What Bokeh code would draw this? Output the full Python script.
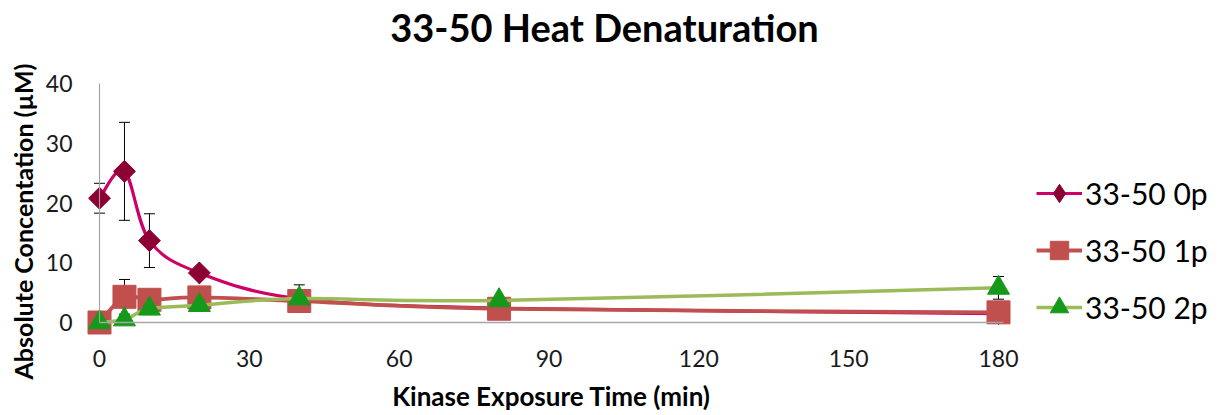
import numpy as np
from bokeh.plotting import figure
from bokeh.models import (ColumnDataSource, Range1d, FixedTicker, Whisker,
                          TeeHead, Legend, LegendItem, Label)
from bokeh.embed import file_html
from bokeh.resources import INLINE

# Kinase exposure time (min)
time_min = [0, 5, 10, 20, 40, 80, 180]

# Absolute concentration (µM) of each phospho-form
conc_0p = [20.8, 25.3, 13.7, 8.3, 4.0, 2.4, 1.5]
conc_1p = [0.0, 4.3, 3.8, 4.2, 3.6, 2.3, 1.7]
conc_2p = [0.0, 0.5, 2.3, 2.9, 4.0, 3.7, 5.8]

# Standard deviations (0 = no bar drawn)
err_0p = [2.5, 8.2, 4.5, 0, 0, 0, 0]
err_1p = [0, 2.9, 0, 0, 0, 0, 1.8]
err_2p = [0, 0, 0, 0, 2.3, 0, 1.9]

series_names = ["33-50 0p", "33-50 1p", "33-50 2p"]
x_ticks = [0, 30, 60, 90, 120, 150, 180]
y_ticks = [0, 10, 20, 30, 40]

FONT = "Lato"
W, H = 1220, 415

# pixel placement of the axes inside the canvas
X0_PX, X180_PX = 99, 998      # x = 0 and x = 180
Y0_PX, Y40_PX = 322, 83       # y = 0 and y = 40
sx = (X180_PX - X0_PX) / 180.0
sy = (Y0_PX - Y40_PX) / 40.0


def px_to_x(px):
    return (px - X0_PX) / sx


def py_to_y(py):
    return (Y0_PX - py) / sy


def smooth_source(xs, ys):
    """Catmull-Rom style cubic Bezier segments through the points."""
    x = np.asarray(xs, float)
    y = np.asarray(ys, float)
    n = len(x)
    cols = {k: [] for k in ("x0", "y0", "x1", "y1", "cx0", "cy0", "cx1", "cy1")}
    for i in range(n - 1):
        a = max(i - 1, 0)
        d = min(i + 2, n - 1)
        cols["x0"].append(x[i]); cols["y0"].append(y[i])
        cols["x1"].append(x[i + 1]); cols["y1"].append(y[i + 1])
        cols["cx0"].append(x[i] + (x[i + 1] - x[a]) / 6)
        cols["cy0"].append(y[i] + (y[i + 1] - y[a]) / 6)
        cols["cx1"].append(x[i + 1] - (x[d] - x[i]) / 6)
        cols["cy1"].append(y[i + 1] - (y[d] - y[i]) / 6)
    return ColumnDataSource(cols)


def error_source(xs, ys, es):
    keep = [i for i, e in enumerate(es) if e > 0]
    return ColumnDataSource(dict(
        x=[xs[i] for i in keep],
        upper=[ys[i] + es[i] for i in keep],
        lower=[ys[i] - es[i] for i in keep],
    ))


# the frame fills the canvas; axes sit at the data origin
p = figure(width=W, height=H, output_backend="svg", toolbar_location=None,
           x_range=Range1d(px_to_x(0), px_to_x(W)),
           y_range=Range1d(py_to_y(H), py_to_y(0)),
           min_border_left=0, min_border_right=0,
           min_border_top=0, min_border_bottom=0)
p.outline_line_color = None
p.background_fill_color = "white"
p.border_fill_color = "white"
p.grid.visible = False

for ax, ticks, bounds in ((p.xaxis[0], x_ticks, (0, 181)), (p.yaxis[0], y_ticks, (0, 40))):
    ax.fixed_location = 0
    ax.bounds = bounds
    ax.ticker = FixedTicker(ticks=ticks)
    ax.minor_tick_line_color = None
    ax.major_tick_line_color = None
    ax.major_tick_in = 0
    ax.major_tick_out = 0
    ax.major_label_text_font = FONT
    ax.major_label_text_font_size = "23px"
    ax.major_label_text_color = "#1a1a1a"
    ax.axis_label_text_font = FONT
    ax.axis_label_text_font_size = "26px"
    ax.axis_label_text_font_style = "bold"
    ax.axis_label_text_color = "black"

p.xaxis.axis_line_color = "#a6a6a6"
p.xaxis.axis_line_width = 1.6
p.yaxis.axis_line_color = "#a0a0a0"
p.yaxis.axis_line_width = 1.1
p.xaxis.axis_label = "Kinase Exposure Time (min)"
p.xaxis.major_label_standoff = 27
p.xaxis.axis_label_standoff = 10
p.yaxis.major_label_standoff = 27

title = Label(x=px_to_x(604), y=py_to_y(26), text="33-50 Heat Denaturation",
              text_align="center", text_baseline="middle", text_font=FONT,
              text_font_size="38px", text_font_style="bold", text_color="black")
p.add_layout(title)

y_title = Label(x=px_to_x(22), y=py_to_y(221), text="Absolute Concentation (µM)",
                angle=np.pi / 2, text_align="center", text_baseline="middle",
                text_font=FONT, text_font_size="25px", text_font_style="bold",
                text_color="black")
p.add_layout(y_title)

styles = [
    dict(vals=conc_0p, errs=err_0p, line="#cc0066", lw=3.2, marker="square",
         mcolor="#8c0033", size=15.5, angle=np.pi / 4, key="diamond"),
    dict(vals=conc_1p, errs=err_1p, line="#c0504d", lw=3.8, marker="square",
         mcolor="#c0504d", size=23, angle=0, key=None),
    dict(vals=conc_2p, errs=err_2p, line="#9bbb59", lw=3.5, marker="triangle",
         mcolor="#15991a", size=22, angle=0, key=None),
]

items = []
for name, st in zip(series_names, styles):
    whisk = Whisker(base="x", upper="upper", lower="lower",
                    source=error_source(time_min, st["vals"], st["errs"]),
                    line_color="black", line_width=1, level="underlay",
                    upper_head=TeeHead(size=11, line_color="black", line_width=1),
                    lower_head=TeeHead(size=11, line_color="black", line_width=1))
    p.add_layout(whisk)
    curve = p.bezier(x0="x0", y0="y0", x1="x1", y1="y1", cx0="cx0", cy0="cy0",
                     cx1="cx1", cy1="cy1", source=smooth_source(time_min, st["vals"]),
                     line_color=st["line"], line_width=st["lw"])
    key_renderers = []
    if st["key"] is not None:
        # legend keys ignore marker rotation: a diamond marker sits under the
        # rotated squares (fully covered) and stands in for them in the legend
        key = p.scatter(x=time_min, y=st["vals"], marker=st["key"], size=21,
                        fill_color=st["mcolor"], line_color=st["mcolor"])
        key_renderers.append(key)
    pts = p.scatter(x=time_min, y=st["vals"], marker=st["marker"], size=st["size"],
                    angle=st["angle"], fill_color=st["mcolor"], line_color=st["mcolor"])
    items.append(LegendItem(label=name, renderers=[curve] + (key_renderers or [pts])))

legend = Legend(items=items, location=(1036, H - 330), orientation="vertical",
                glyph_width=46, glyph_height=46, spacing=11, padding=0, margin=0,
                label_standoff=3, label_text_font=FONT, label_text_font_size="30px",
                label_text_color="black", border_line_color=None,
                background_fill_alpha=0)
p.add_layout(legend)

open("out.html", "w").write(file_html(p, INLINE))
